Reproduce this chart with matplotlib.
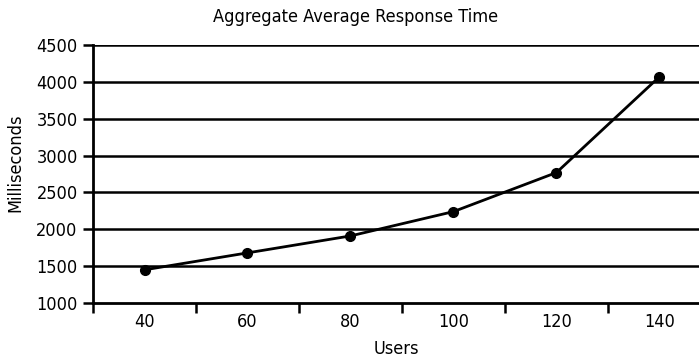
import matplotlib.pyplot as plt
import numpy as np

users = ['40', '60', '80', '100', '120', '140']
response_ms = [1450, 1680, 1910, 2240, 2770, 4070]

plt.rcParams['font.family'] = ['DejaVu Sans']
plt.rcParams['font.stretch'] = 'condensed'

fig = plt.figure(figsize=(6.99, 3.61), dpi=100)
# plot area runs a little past the right edge of the figure
ax = fig.add_axes([93/699, 58/361, 618/699, 258/361])

x = np.arange(len(users))
ax.plot(x, response_ms, color='black', lw=2, marker='o', ms=7, zorder=3)

ax.set_xlim(-0.5, len(users) - 0.5)
ax.set_ylim(1000, 4500)
ax.set_yticks(np.arange(1000, 4501, 500))
for v in np.arange(1500, 4501, 500):
    ax.axhline(v, color='black', lw=1.8, zorder=1)

# labels sit on the categories, tick marks fall between them
ax.set_xticks(x)
ax.set_xticklabels(users)
ax.set_xticks(np.arange(-0.5, len(users)), minor=True)
ax.tick_params(axis='x', which='major', length=0, pad=7, labelsize=13)
ax.tick_params(axis='x', which='minor', length=7, width=1.8, direction='out')
ax.tick_params(axis='y', length=7, width=1.8, direction='out', labelsize=13, pad=4)

for side in ['top', 'right']:
    ax.spines[side].set_visible(False)
ax.spines['left'].set_linewidth(2)
ax.spines['bottom'].set_linewidth(2)

fig.text(356/699, 1 - 17/361, 'Aggregate Average Response Time', ha='center', va='center', fontsize=13)
fig.text(396/699, 1 - 349/361, 'Users', ha='center', va='center', fontsize=13)
fig.text(15/699, 1 - 163/361, 'Milliseconds', ha='center', va='center', rotation=90, fontsize=13)

fig.savefig('out.png', dpi=100)
